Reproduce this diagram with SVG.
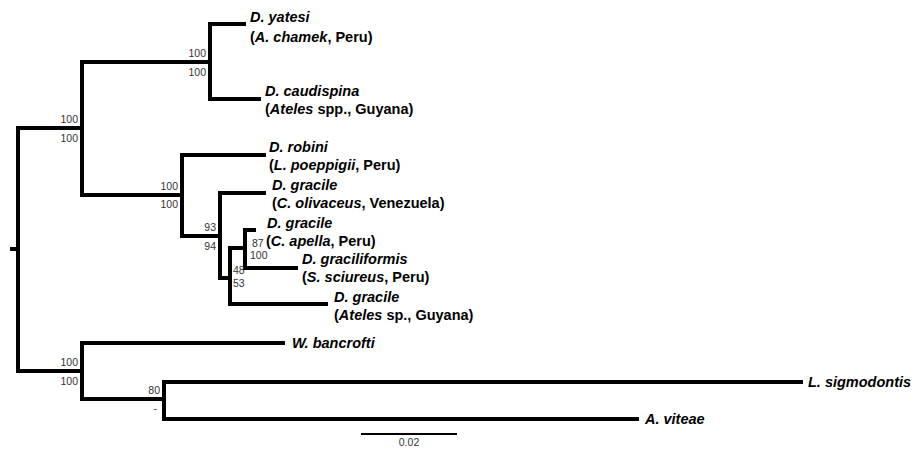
<svg xmlns="http://www.w3.org/2000/svg" width="915" height="449" viewBox="0 0 915 449">
<style>
.br{fill:none;stroke:#000;stroke-width:4;stroke-linecap:square;stroke-linejoin:miter}
.sb{fill:none;stroke:#000;stroke-width:2}
.tx{font-family:"Liberation Sans",Arial,sans-serif;font-size:14.5px;font-weight:bold;fill:#000}
.it{font-style:italic}
.sv{font-family:"Liberation Sans",Arial,sans-serif;font-size:10.5px;fill:#333}
.r{text-anchor:end}
</style>
<rect width="915" height="449" fill="#fff"/>
<g id="connectors">
<path class="br" d="M12 249 H18"/>
<path class="br" d="M82 128 H18 V371 H82"/>
<path class="br" d="M210 62 H82 V195 H182"/>
<path class="br" d="M244 24 H210 V99 H259"/>
<path class="br" d="M264 155 H182 V236 H220"/>
<path class="br" d="M264 193 H220 V278 H230"/>
<path class="br" d="M245 248 H230 V304 H326"/>
<path class="br" d="M254 230 H245 V268 H296"/>
<path class="br" d="M283 343 H82 V399 H164"/>
<path class="br" d="M801 382 H164 V419 H637"/>
<path class="sb" d="M361 434 H457"/>
</g>
<g id="support">
<text class="sv r" x="78" y="123">100</text>
<text class="sv r" x="78" y="142">100</text>
<text class="sv r" x="206" y="57">100</text>
<text class="sv r" x="206" y="76">100</text>
<text class="sv r" x="178" y="190">100</text>
<text class="sv r" x="178" y="208">100</text>
<text class="sv r" x="216" y="231">93</text>
<text class="sv r" x="216" y="250">94</text>
<text class="sv" x="233" y="274">48</text>
<text class="sv" x="233" y="287">53</text>
<text class="sv" x="252" y="247">87</text>
<text class="sv" x="250" y="259">100</text>
<text class="sv r" x="78" y="366">100</text>
<text class="sv r" x="78" y="385">100</text>
<text class="sv r" x="160" y="394">80</text>
<text class="sv r" x="157" y="412">-</text>
</g>
<g id="tip-yatesi">
<text class="tx it" x="250" y="22">D. yatesi</text>
<text class="tx" x="250" y="42">(<tspan class="it">A. chamek</tspan>, Peru)</text>
</g>
<g id="tip-caudispina">
<text class="tx it" x="265" y="96">D. caudispina</text>
<text class="tx" x="265" y="114">(<tspan class="it">Ateles</tspan> spp., Guyana)</text>
</g>
<g id="tip-robini">
<text class="tx it" x="269" y="152">D. robini</text>
<text class="tx" x="269" y="170">(<tspan class="it">L. poeppigii</tspan>, Peru)</text>
</g>
<g id="tip-gracile-venezuela">
<text class="tx it" x="272" y="190">D. gracile</text>
<text class="tx" x="272" y="208">(<tspan class="it">C. olivaceus</tspan>, Venezuela)</text>
</g>
<g id="tip-gracile-peru">
<text class="tx it" x="267" y="228">D. gracile</text>
<text class="tx" x="266" y="246">(<tspan class="it">C. apella</tspan>, Peru)</text>
</g>
<g id="tip-graciliformis">
<text class="tx it" x="302" y="264">D. graciliformis</text>
<text class="tx" x="302" y="282">(<tspan class="it">S. sciureus</tspan>, Peru)</text>
</g>
<g id="tip-gracile-guyana">
<text class="tx it" x="334" y="302">D. gracile</text>
<text class="tx" x="334" y="320">(<tspan class="it">Ateles</tspan> sp., Guyana)</text>
</g>
<g id="tip-bancrofti">
<text class="tx it" x="292" y="348">W. bancrofti</text>
</g>
<g id="tip-sigmodontis">
<text class="tx it" x="808" y="387">L. sigmodontis</text>
</g>
<g id="tip-viteae">
<text class="tx it" x="645" y="424">A. viteae</text>
</g>
<g id="scale">
<text class="sv" x="409" y="446" text-anchor="middle">0.02</text>
</g>
</svg>
